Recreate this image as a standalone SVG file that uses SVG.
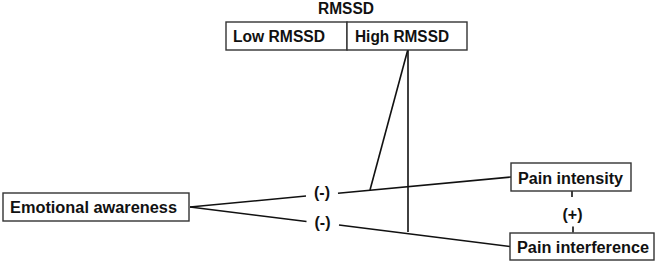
<svg xmlns="http://www.w3.org/2000/svg" width="665" height="263" viewBox="0 0 665 263">
<style>
.box{fill:#fff;stroke:#333;stroke-width:1.4}
.t{font-family:"Liberation Sans",Arial,sans-serif;font-weight:bold;font-size:16px;fill:#111}
.c{stroke:#111;stroke-width:1.6;fill:none}
</style>
<rect width="665" height="263" fill="#fff"/>
<g id="connectors">
<line class="c" x1="190" y1="207" x2="306" y2="196"/>
<line class="c" x1="338" y1="193.3" x2="511" y2="177"/>
<line class="c" x1="190" y1="207" x2="306.5" y2="221.5"/>
<line class="c" x1="339" y1="225" x2="510" y2="246.5"/>
<line class="c" x1="408" y1="49" x2="370" y2="190"/>
<line class="c" x1="408" y1="49" x2="408" y2="232"/>
<line class="c" x1="572" y1="191" x2="572" y2="197"/>
<line class="c" x1="573" y1="226.5" x2="573" y2="232.5"/>
<text class="t" x="322" y="197.5" text-anchor="middle">(-)</text>
<text class="t" x="322.5" y="228" text-anchor="middle">(-)</text>
<text class="t" x="572.5" y="219.5" text-anchor="middle">(+)</text>
</g>
<g id="rmssd">
<text class="t" x="346" y="14" text-anchor="middle" textLength="56" lengthAdjust="spacingAndGlyphs">RMSSD</text>
</g>
<g id="low-rmssd">
<rect class="box" x="226" y="22" width="121" height="28"/>
<text class="t" x="233" y="42" textLength="92" lengthAdjust="spacingAndGlyphs">Low RMSSD</text>
</g>
<g id="high-rmssd">
<rect class="box" x="347" y="22" width="120" height="28"/>
<text class="t" x="355" y="42" textLength="94" lengthAdjust="spacingAndGlyphs">High RMSSD</text>
</g>
<g id="emotional-awareness">
<rect class="box" x="3" y="193" width="186" height="28"/>
<text class="t" x="10" y="213" textLength="167" lengthAdjust="spacingAndGlyphs">Emotional awareness</text>
</g>
<g id="pain-intensity">
<rect class="box" x="511" y="163" width="120" height="28"/>
<text class="t" x="518" y="183.5" textLength="105" lengthAdjust="spacingAndGlyphs">Pain intensity</text>
</g>
<g id="pain-interference">
<rect class="box" x="510" y="233" width="144" height="27"/>
<text class="t" x="517" y="252.5" textLength="132" lengthAdjust="spacingAndGlyphs">Pain interference</text>
</g>
</svg>
